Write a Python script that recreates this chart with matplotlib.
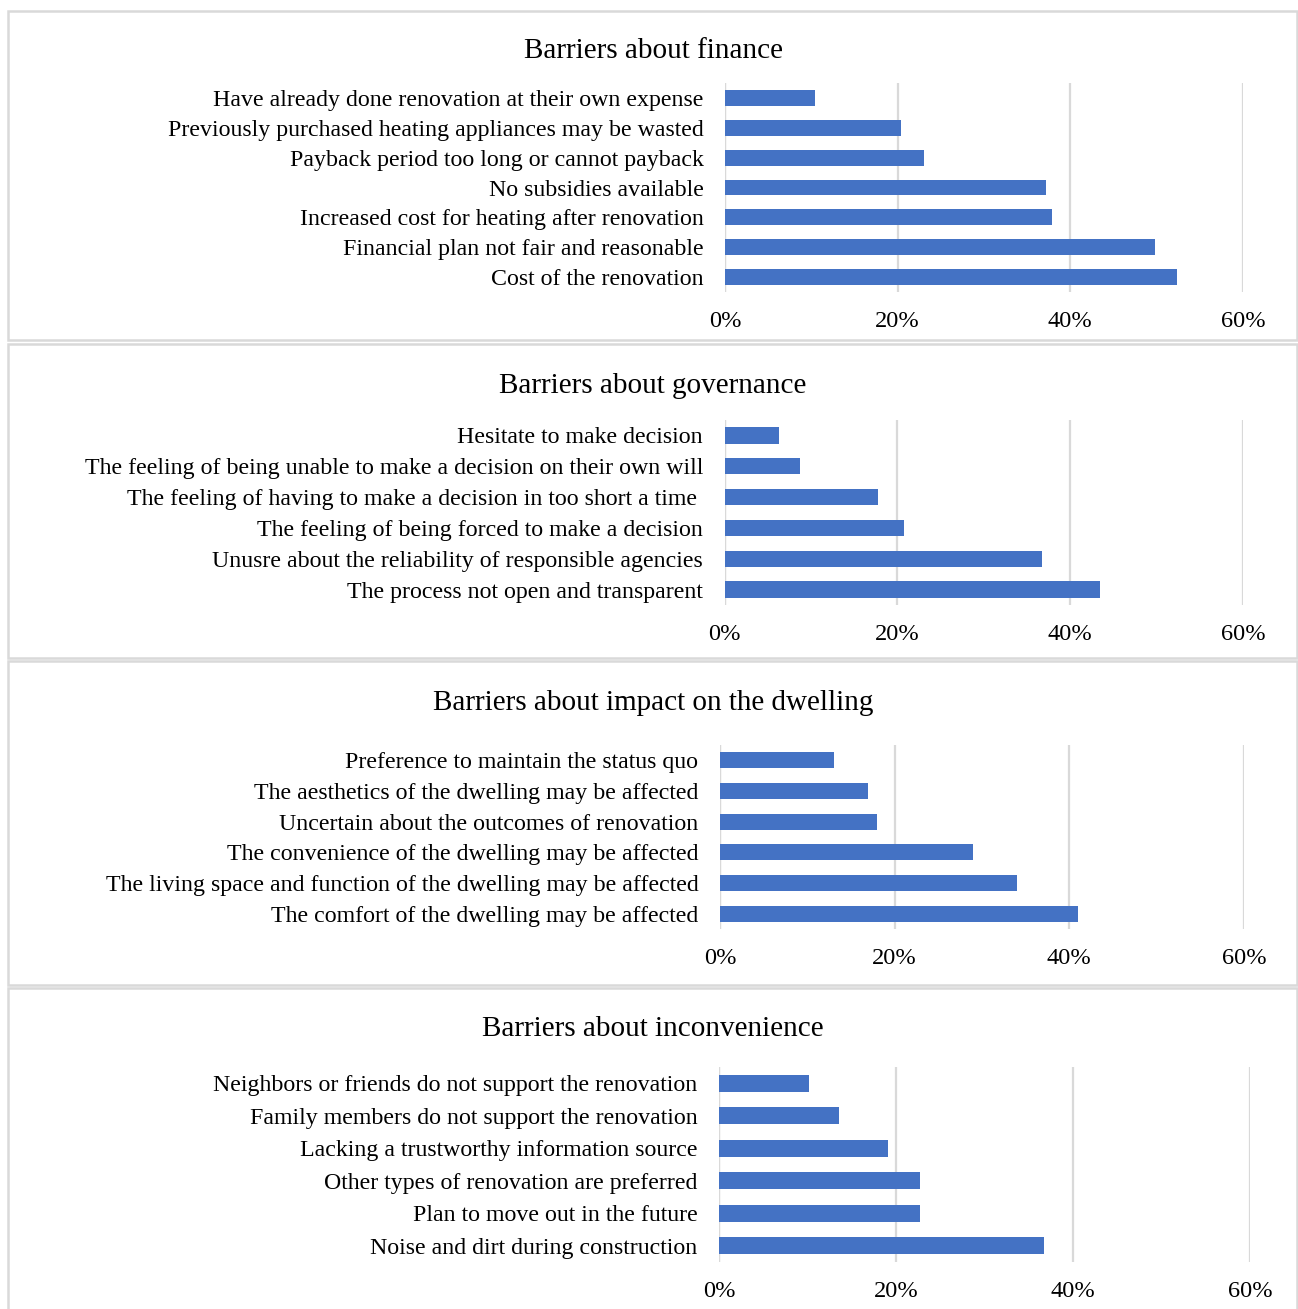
import matplotlib.pyplot as plt
from matplotlib.patches import Rectangle
from matplotlib.ticker import PercentFormatter

plt.rcParams["font.family"] = ["Liberation Serif", "DejaVu Serif"]

W, H = 1298, 1309
BAR_COLOR = "#4472C4"
GRID_COLOR = "#d9d9d9"

# Data (top to bottom as shown in the chart)
finance_labels = [
    "Have already done renovation at their own expense",
    "Previously purchased heating appliances may be wasted",
    "Payback period too long or cannot payback",
    "No subsidies available",
    "Increased cost for heating after renovation",
    "Financial plan not fair and reasonable",
    "Cost of the renovation",
]
finance_values = [10.4, 20.4, 23.1, 37.2, 37.9, 49.8, 52.3]

governance_labels = [
    "Hesitate to make decision",
    "The feeling of being unable to make a decision on their own will",
    "The feeling of having to make a decision in too short a time ",
    "The feeling of being forced to make a decision",
    "Unusre about the reliability of responsible agencies",
    "The process not open and transparent",
]
governance_values = [6.3, 8.7, 17.8, 20.8, 36.7, 43.5]

dwelling_labels = [
    "Preference to maintain the status quo",
    "The aesthetics of the dwelling may be affected",
    "Uncertain about the outcomes of renovation",
    "The convenience of the dwelling may be affected",
    "The living space and function of the dwelling may be affected",
    "The comfort of the dwelling may be affected",
]
dwelling_values = [13.0, 17.0, 18.0, 29.0, 34.0, 41.0]

inconvenience_labels = [
    "Neighbors or friends do not support the renovation",
    "Family members do not support the renovation",
    "Lacking a trustworthy information source",
    "Other types of renovation are preferred",
    "Plan to move out in the future",
    "Noise and dirt during construction",
]
inconvenience_values = [10.2, 13.6, 19.1, 22.7, 22.7, 36.7]

titles = [
    "Barriers about finance",
    "Barriers about governance",
    "Barriers about impact on the dwelling",
    "Barriers about inconvenience",
]
x_ticks = [0, 20, 40, 60]

# Layout in pixels: (box top/bottom, axes left/right/top/bottom, title y)
panels = [
    (finance_labels, finance_values, (11, 340), (725, 1243, 83, 292), 51),
    (governance_labels, governance_values, (344, 658), (724.5, 1243, 420, 605), 386),
    (dwelling_labels, dwelling_values, (661, 985), (720, 1244, 745, 929), 703),
    (inconvenience_labels, inconvenience_values, (988, 1320), (719, 1250, 1067, 1262), 1029),
]


def px_rect(left, right, top, bottom):
    return [left / W, 1 - bottom / H, (right - left) / W, (bottom - top) / H]


fig = plt.figure(figsize=(W / 100, H / 100), dpi=100)

for (labels, values, box, ax_px, title_y), title in zip(panels, titles):
    # panel border
    bx = px_rect(8, 1297, box[0], box[1])
    fig.patches.append(Rectangle((bx[0], bx[1]), bx[2], bx[3], transform=fig.transFigure,
                                 fill=False, edgecolor=GRID_COLOR, linewidth=1.8))

    ax = fig.add_axes(px_rect(*ax_px))
    ypos = list(range(len(labels)))[::-1]
    ax.barh(ypos, values, height=0.53, color=BAR_COLOR, zorder=3)
    ax.set_ylim(-0.5, len(labels) - 0.5)
    ax.set_xlim(0, 60)
    ax.set_xticks(x_ticks)
    ax.xaxis.set_major_formatter(PercentFormatter(decimals=0))
    ax.set_yticks(ypos)
    ax.set_yticklabels(labels)
    ax.tick_params(axis="y", length=0, pad=15.5, labelsize=17.2)
    ax.tick_params(axis="x", length=0, pad=14, labelsize=17.6)
    ax.grid(axis="x", color=GRID_COLOR, linewidth=1.6, zorder=0)
    ax.axvline(0, color=GRID_COLOR, linewidth=1.6, zorder=1)
    for s in ax.spines.values():
        s.set_visible(False)

    fig.text(653 / W, 1 - title_y / H, title, ha="center", va="center", fontsize=21)

fig.savefig("out.png", dpi=100)
